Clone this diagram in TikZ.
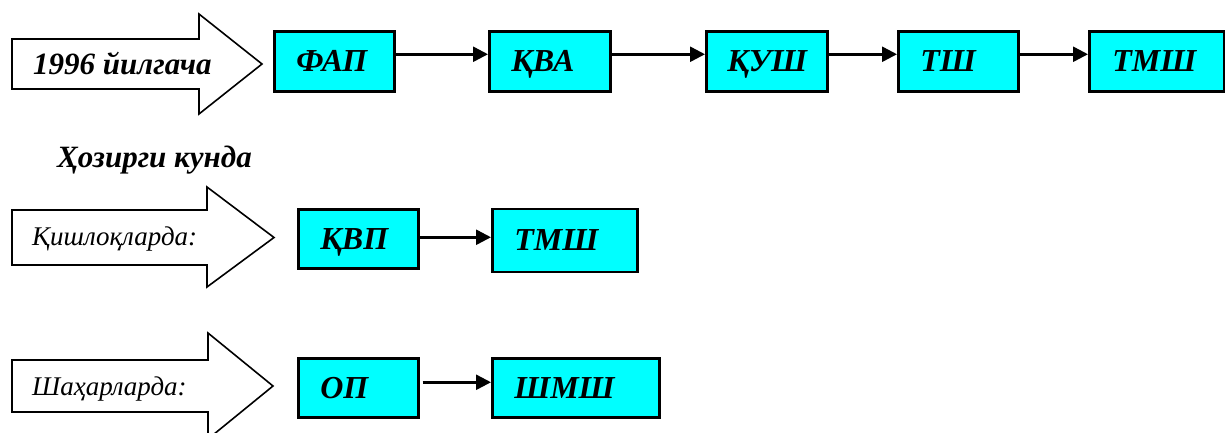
\documentclass[tikz,border=0pt]{standalone}
\usepackage{fontspec}
\setmainfont{Liberation Serif}
\usetikzlibrary{arrows.meta}
\definecolor{boxcyan}{HTML}{00FFFF}
\tikzset{
  stagebox/.style={draw=black, fill=boxcyan, line width=2.5pt, anchor=north west,
    inner xsep=22pt, inner ysep=0pt, text height=21pt, text depth=0pt, align=left,
    font=\bfseries\itshape\fontsize{32}{32}\selectfont},
  bigarrow/.style={draw=black, fill=white, line width=1.6pt, line join=miter},
  flow/.style={line width=2.5pt, -{Triangle[length=15pt,width=15pt]}},
  headtxt/.style={anchor=base west, inner sep=0pt, font=\bfseries\itshape\fontsize{31}{31}\selectfont},
  subtxt/.style={anchor=base west, inner sep=0pt, font=\itshape\fontsize{27}{27}\selectfont}
}
\begin{document}
\begin{tikzpicture}[x=1pt,y=-1pt]
\useasboundingbox (0,0) rectangle (1225,432);
\clip (0,0) rectangle (1225,432);
% block arrows
\draw[bigarrow] (12,39) -- (199,39) -- (199,14) -- (262,64) -- (199,114) -- (199,89) -- (12,89) -- cycle;
\draw[bigarrow] (12,210) -- (207,210) -- (207,187) -- (274,237.5) -- (207,287) -- (207,265) -- (12,265) -- cycle;
\draw[bigarrow] (12,360) -- (208,360) -- (208,333) -- (273,386) -- (208,439) -- (208,412) -- (12,412) -- cycle;
% arrow labels
\node[headtxt] (t1996) at (33,74) {1996 йилгача};
\node[headtxt] (hozir) at (57,167) {Ҳозирги кунда};
\node[subtxt] (qish) at (32,245) {Қишлоқларда:};
\node[subtxt] (shah) at (32,395) {Шаҳарларда:};
% row 1
\node[stagebox, minimum width=120pt, minimum height=60pt, text width=76pt] (fap) at (273,30) {ФАП};
\node[stagebox, minimum width=121pt, minimum height=60pt, text width=77pt] (kva) at (488,30) {ҚВА};
\node[stagebox, minimum width=121pt, minimum height=60pt, text width=77pt, inner xsep=21pt, text width=79pt] (qush) at (705,30) {ҚУШ};
\node[stagebox, minimum width=120pt, minimum height=60pt, text width=76pt] (tsh) at (897,30) {ТШ};
\node[stagebox, minimum width=135pt, minimum height=60pt, text width=89pt, inner xsep=23pt] (tmsh) at (1088,30) {ТМШ};
\coordinate (a1) at ([yshift=7pt]fap.east);
\coordinate (a2) at ([yshift=7pt]kva.east);
\coordinate (a3) at ([yshift=7pt]qush.east);
\coordinate (a4) at ([yshift=7pt]tsh.east);
\draw[flow] (a1) -- (a1 -| kva.west);
\draw[flow] (a2) -- (a2 -| qush.west);
\draw[flow] (a3) -- (a3 -| tsh.west);
\draw[flow] (a4) -- (a4 -| tmsh.west);
% row 2
\node[stagebox, minimum width=120pt, minimum height=59pt, text width=76pt] (kvp) at (297,208) {ҚВП};
\node[stagebox, minimum width=145pt, minimum height=63pt, text width=101pt] (tmsh2) at (491,207.5) {ТМШ};
\coordinate (b1) at ([yshift=1.5pt]kvp.east);
\draw[flow] (b1) -- (b1 -| tmsh2.west);
% row 3
\node[stagebox, minimum width=120pt, minimum height=59pt, text width=76pt] (op) at (297,357) {ОП};
\node[stagebox, minimum width=167pt, minimum height=59pt, text width=123pt] (shmsh) at (491,357) {ШМШ};
\coordinate (c1) at ([xshift=3pt,yshift=5.5pt]op.east);
\draw[flow] (c1) -- (c1 -| shmsh.west);
\end{tikzpicture}
\end{document}
